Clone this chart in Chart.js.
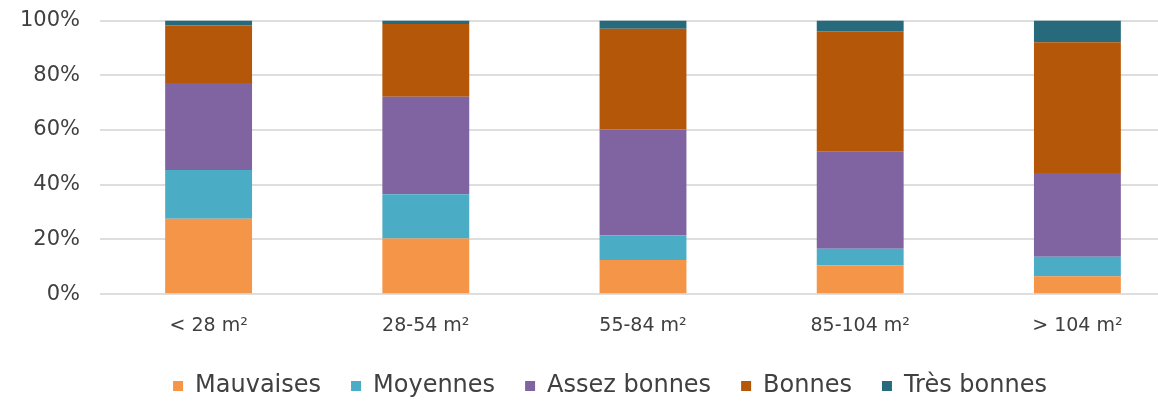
<!DOCTYPE html>
<html lang="fr">
<head>
<meta charset="utf-8">
<script src="https://cdn.jsdelivr.net/npm/chart.js@4/dist/chart.umd.min.js"></script>
<style>
  html, body { margin: 0; padding: 0; background: #ffffff; }
  #frame { width: 1158px; height: 401px; overflow: hidden; position: relative; }
  #wrap { width: 1186px; height: 420px; position: absolute; left: 0; top: -12px; }
</style>
</head>
<body>
<div id="frame"><div id="wrap"><canvas id="chart"></canvas></div></div>
<script>
// Surface classes of the dwellings
const categories = ['< 28 m²', '28-54 m²', '55-84 m²', '85-104 m²', '> 104 m²'];

// Share of each rating per surface class (%)
const mauvaises    = [27.6, 20.4, 12.5, 10.5, 6.6];
const moyennes     = [17.8, 16.1,  9.0,  6.1, 7.1];
const assezBonnes  = [31.8, 35.7, 38.7, 35.5, 30.6];
const bonnes       = [21.0, 26.6, 36.8, 44.0, 47.8];
const tresBonnes   = [ 1.8,  1.2,  3.0,  3.9, 7.9];

const seriesNames  = ['Mauvaises', 'Moyennes', 'Assez bonnes', 'Bonnes', 'Très bonnes'];
const seriesColors = ['#F59547', '#4BACC6', '#8064A2', '#B55708', '#276A7B'];

const yTicks = [0, 20, 40, 60, 80, 100];

const seriesValues = [mauvaises, moyennes, assezBonnes, bonnes, tresBonnes];

const FONT = "'DejaVu Sans', sans-serif";
const TEXT = '#404040';

// Legend row is centred a little right of the canvas middle.
const legendShift = {
  id: 'legendShift',
  afterLayout(chart) {
    if (chart.legend) chart.legend.left = 34;
  }
};

new Chart(document.getElementById('chart'), {
  type: 'bar',
  data: {
    labels: categories,
    datasets: seriesValues.map((vals, i) => ({
      label: seriesNames[i],
      data: vals,
      backgroundColor: seriesColors[i],
      borderWidth: 0,
      barPercentage: 0.4,
      categoryPercentage: 1.0
    }))
  },
  plugins: [legendShift],
  options: {
    responsive: true,
    maintainAspectRatio: false,
    animation: false,
    layout: { padding: 0 },
    plugins: {
      tooltip: { enabled: false },
      legend: {
        position: 'bottom',
        labels: {
          boxWidth: 10,
          boxHeight: 10,
          padding: 30,
          color: TEXT,
          font: { family: FONT, size: 24 }
        }
      }
    },
    scales: {
      x: {
        stacked: true,
        afterFit: (scale) => { scale.height -= 13; },
        grid: { display: false, drawTicks: false },
        border: { display: false },
        ticks: {
          color: TEXT,
          padding: 20,
          font: { family: FONT, size: 19 }
        }
      },
      y: {
        stacked: true,
        min: 0,
        max: 100,
        afterFit: (scale) => { scale.width = 100; },
        afterBuildTicks: (scale) => { scale.ticks = yTicks.map(v => ({ value: v })); },
        grid: { color: '#dedede', lineWidth: 2, drawTicks: false },
        border: { display: false },
        ticks: {
          color: TEXT,
          padding: 20,
          font: { family: FONT, size: 21 },
          callback: (v) => v + '%'
        }
      }
    }
  }
});
</script>
</body>
</html>
